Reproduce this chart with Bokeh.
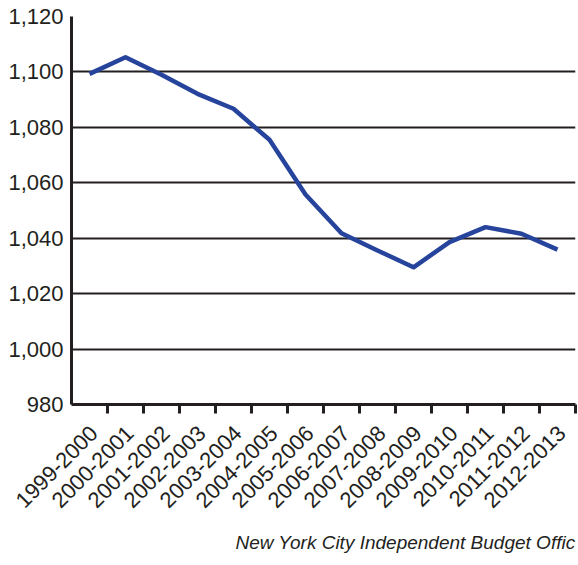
import math
from bokeh.plotting import figure
from bokeh.models import Range1d, FixedTicker, Title, NumeralTickFormatter
from bokeh.embed import file_html
from bokeh.resources import INLINE

# ---- data ----
years = ["1999-2000", "2000-2001", "2001-2002", "2002-2003", "2003-2004",
         "2004-2005", "2005-2006", "2006-2007", "2007-2008", "2008-2009",
         "2009-2010", "2010-2011", "2011-2012", "2012-2013"]
enrollment = [1099.3, 1105.3, 1099.0, 1092.1, 1086.7, 1075.5, 1055.8,
              1041.8, 1035.6, 1029.5, 1038.6, 1044.0, 1041.6, 1035.9]
y_ticks = [980, 1000, 1020, 1040, 1060, 1080, 1100, 1120]
source_note = "New York City Independent Budget Offic"

INK = "#231f20"
BLUE = "#27449c"
FONT = "Liberation Sans"

# category slots: centre of slot i is i + 0.5, slot boundaries at integers
n = len(years)
x_pos = [i + 0.5 for i in range(n)]
label_shift = 0.12  # rotated labels sit slightly right of the slot centre
label_pos = [x + label_shift for x in x_pos]

p = figure(x_range=Range1d(0, n), y_range=Range1d(y_ticks[0], y_ticks[-1]),
           width=578, height=565, output_backend="svg", toolbar_location=None,
           min_border_left=71, min_border_right=3, min_border_top=16,
           min_border_bottom=100)
p.outline_line_color = None
p.background_fill_color = "white"
p.border_fill_color = "white"

p.line(x=x_pos, y=enrollment, line_color=BLUE, line_width=4.5, line_join="round")

# grid
p.xgrid.grid_line_color = None
p.ygrid.ticker = FixedTicker(ticks=y_ticks)
p.ygrid.grid_line_color = INK
p.ygrid.grid_line_width = 2

# y axis
ya = p.yaxis[0]
ya.ticker = FixedTicker(ticks=y_ticks, minor_ticks=[])
ya.formatter = NumeralTickFormatter(format="0,0")
ya.axis_line_color = INK
ya.axis_line_width = 3
ya.major_tick_out = 0
ya.major_tick_in = 0
ya.minor_tick_out = 0
ya.minor_tick_in = 0
ya.major_label_standoff = 8
ya.major_label_text_font = FONT
ya.major_label_text_font_size = "22px"
ya.major_label_text_color = INK

# x axis: labels near slot centres, tick marks at slot boundaries
xa = p.xaxis[0]
xa.ticker = FixedTicker(ticks=label_pos, minor_ticks=list(range(1, n + 1)))
xa.major_label_overrides = {x: lab for x, lab in zip(label_pos, years)}
xa.axis_line_color = INK
xa.axis_line_width = 3
xa.major_tick_out = 0
xa.major_tick_in = 0
xa.minor_tick_out = 9
xa.minor_tick_in = 0
xa.minor_tick_line_width = 3
xa.minor_tick_line_color = INK
xa.major_label_orientation = math.pi / 4
xa.major_label_standoff = 16
xa.major_label_text_font = FONT
xa.major_label_text_font_size = "22px"
xa.major_label_text_color = INK

note = Title(text=source_note, align="right", text_font=FONT,
             text_font_style="italic", text_font_size="19px",
             text_color=INK, standoff=25)
p.add_layout(note, "below")

open("out.html", "w").write(file_html(p, INLINE))
